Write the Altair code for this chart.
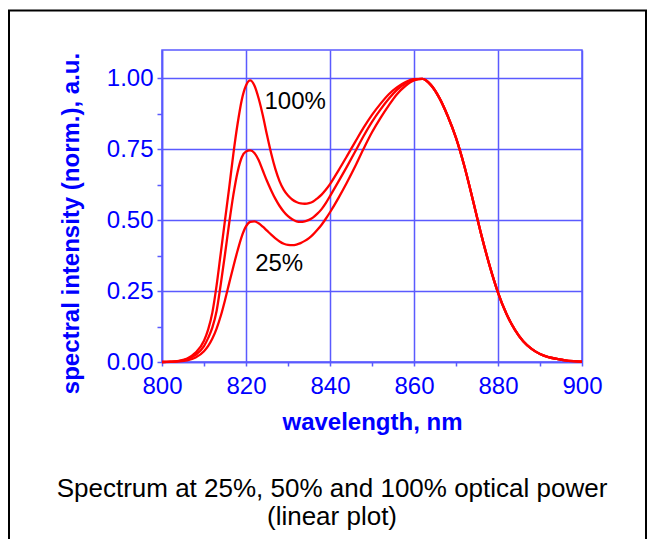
import altair as alt
import pandas as pd

# ---- data ----
wavelength = [800, 802, 804, 806, 808,
              810, 811, 812, 813, 814, 815, 816, 817, 818, 819,
              820, 821, 822, 823, 824, 825, 826, 827, 828, 829,
              830, 831, 832, 833, 834, 835, 836, 837, 838, 839, 840,
              842, 844, 846, 848, 850, 852, 854, 856, 858, 860, 862,
              864, 866, 868, 870, 872, 874, 876, 878, 880, 882,
              884, 886, 888, 890, 892, 894, 896, 898, 900]

power_100 = [0.000, 0.001, 0.004, 0.012, 0.033,
             0.075, 0.115, 0.175, 0.270, 0.385, 0.500, 0.615, 0.735, 0.840, 0.925,
             0.975, 0.993, 0.975, 0.930, 0.870, 0.800, 0.735, 0.680, 0.637, 0.607,
             0.587, 0.573, 0.564, 0.559, 0.558, 0.560, 0.566, 0.577, 0.590, 0.607, 0.627,
             0.675, 0.725, 0.776, 0.826, 0.871, 0.910, 0.944, 0.969, 0.987, 0.997, 0.998,
             0.977, 0.932, 0.868, 0.790, 0.690, 0.572, 0.450, 0.340, 0.245, 0.170,
             0.114, 0.073, 0.046, 0.028, 0.017, 0.011, 0.006, 0.003, 0.001]

power_50 = [0.000, 0.001, 0.003, 0.010, 0.025,
            0.056, 0.085, 0.122, 0.180, 0.275, 0.380, 0.490, 0.590, 0.670, 0.722,
            0.742, 0.746, 0.737, 0.712, 0.675, 0.638, 0.605, 0.575, 0.550, 0.530,
            0.514, 0.503, 0.496, 0.494, 0.496, 0.501, 0.510, 0.523, 0.539, 0.560, 0.585,
            0.636, 0.688, 0.742, 0.797, 0.847, 0.890, 0.928, 0.960, 0.983, 0.996, 0.998,
            0.977, 0.932, 0.868, 0.790, 0.690, 0.572, 0.450, 0.340, 0.245, 0.170,
            0.114, 0.073, 0.046, 0.028, 0.017, 0.011, 0.006, 0.003, 0.001]

power_25 = [0.000, 0.0005, 0.002, 0.006, 0.016,
            0.038, 0.057, 0.083, 0.118, 0.163, 0.218, 0.278, 0.337, 0.393, 0.443,
            0.478, 0.494, 0.496, 0.489, 0.477, 0.463, 0.449, 0.436, 0.425, 0.417,
            0.413, 0.412, 0.414, 0.419, 0.427, 0.437, 0.450, 0.466, 0.484, 0.505, 0.528,
            0.578, 0.632, 0.690, 0.752, 0.810, 0.860, 0.905, 0.945, 0.974, 0.993, 0.998,
            0.977, 0.932, 0.868, 0.790, 0.690, 0.572, 0.450, 0.340, 0.245, 0.170,
            0.114, 0.073, 0.046, 0.028, 0.017, 0.011, 0.006, 0.003, 0.001]

series_names = ["100%", "50%", "25%"]

x_tick_values = [800, 810, 820, 830, 840, 850, 860, 870, 880, 890, 900]
y_tick_values = [0.0, 0.125, 0.25, 0.375, 0.5, 0.625, 0.75, 0.875, 1.0]

label_texts = ["100%", "25%"]
label_wavelength = [831.7, 827.9]
label_intensity = [0.917, 0.345]

x_title = "wavelength, nm"
y_title = "spectral intensity (norm.), a.u."
caption = "Spectrum at 25%, 50% and 100% optical power\n(linear plot)"

# ---- tables ----
for vals in (power_100, power_50, power_25):
    assert len(vals) == len(wavelength)

rows = []
for name, vals in zip(series_names, [power_100, power_50, power_25]):
    for w, v in zip(wavelength, vals):
        rows.append({"wavelength": w, "intensity": v, "series": name})
df = pd.DataFrame(rows)

labels_df = pd.DataFrame({"wavelength": label_wavelength,
                          "intensity": label_intensity,
                          "text": label_texts})

GRID = "#5a5aff"
BLUE = "#0000ff"
FONT = "Liberation Sans"

x_minor = "datum.value % 20 != 0"
y_minor = "abs(datum.value * 4 - round(datum.value * 4)) > 0.001"

x_axis = alt.Axis(
    values=x_tick_values, format="d", title=x_title,
    labelExpr="datum.value % 20 == 0 ? datum.label : ''",
    gridOpacity={"condition": {"test": x_minor, "value": 0}, "value": 1},
    tickSize=4, labelPadding=8, labelFlush=False, labelOverlap=False,
    titleBaseline="alphabetic", titleY=67, titleX=210,
)
y_axis = alt.Axis(
    values=y_tick_values, format=".2f", title=y_title,
    labelExpr="abs(datum.value * 4 - round(datum.value * 4)) < 0.001 ? datum.label : ''",
    gridOpacity={"condition": {"test": y_minor, "value": 0}, "value": 1},
    tickSize=5, labelPadding=4, labelFlush=False, labelOverlap=False,
    titleBaseline="alphabetic", titleAngle=270, titleX=-83.5, titleY=173,
)

x_enc = alt.X("wavelength:Q", scale=alt.Scale(domain=[800, 900], nice=False, zero=False), axis=x_axis)
y_enc = alt.Y("intensity:Q", scale=alt.Scale(domain=[0, 1.1], nice=False), axis=y_axis)

border = alt.Chart(alt.Data(values=[{"k": 1}])).mark_rect(
    fillOpacity=0, stroke="black", strokeWidth=2
).encode(
    x=alt.value(-153), x2=alt.value(484), y=alt.value(-39.5), y2=alt.value(495)
)

lines = alt.Chart(df).mark_line(strokeWidth=2.3, interpolate="monotone").encode(
    x=x_enc,
    y=y_enc,
    color=alt.Color("series:N", scale=alt.Scale(domain=series_names, range=["#ff0000"] * 3), legend=None),
)

annotations = alt.Chart(labels_df).mark_text(
    font=FONT, fontSize=24, color="black", align="center", baseline="middle"
).encode(x=x_enc, y=y_enc, text="text:N")

caption_layer = alt.Chart(alt.Data(values=[{"k": 1}])).mark_text(
    font=FONT, fontSize=26, color="black", align="center", baseline="alphabetic",
    lineBreak="\n", lineHeight=28
).encode(x=alt.value(170), y=alt.value(447), text=alt.value(caption))

chart = alt.layer(border, lines, annotations, caption_layer).properties(
    width=420, height=312,
    autosize=alt.AutoSizeParams(type="none"),
    padding={"left": 154, "top": 42, "right": 65, "bottom": 177},
    background="white",
).configure_view(
    stroke=GRID, strokeWidth=1.5
).configure_axis(
    domainColor=GRID, domainWidth=1.5, gridColor=GRID, gridWidth=1.5,
    tickColor=GRID, tickWidth=1.5,
    labelColor=BLUE, labelFont=FONT, labelFontSize=24,
    titleColor=BLUE, titleFont=FONT, titleFontSize=24, titleFontWeight="bold",
)

chart.save("out.html", embed_options={"renderer": "svg", "actions": False})
